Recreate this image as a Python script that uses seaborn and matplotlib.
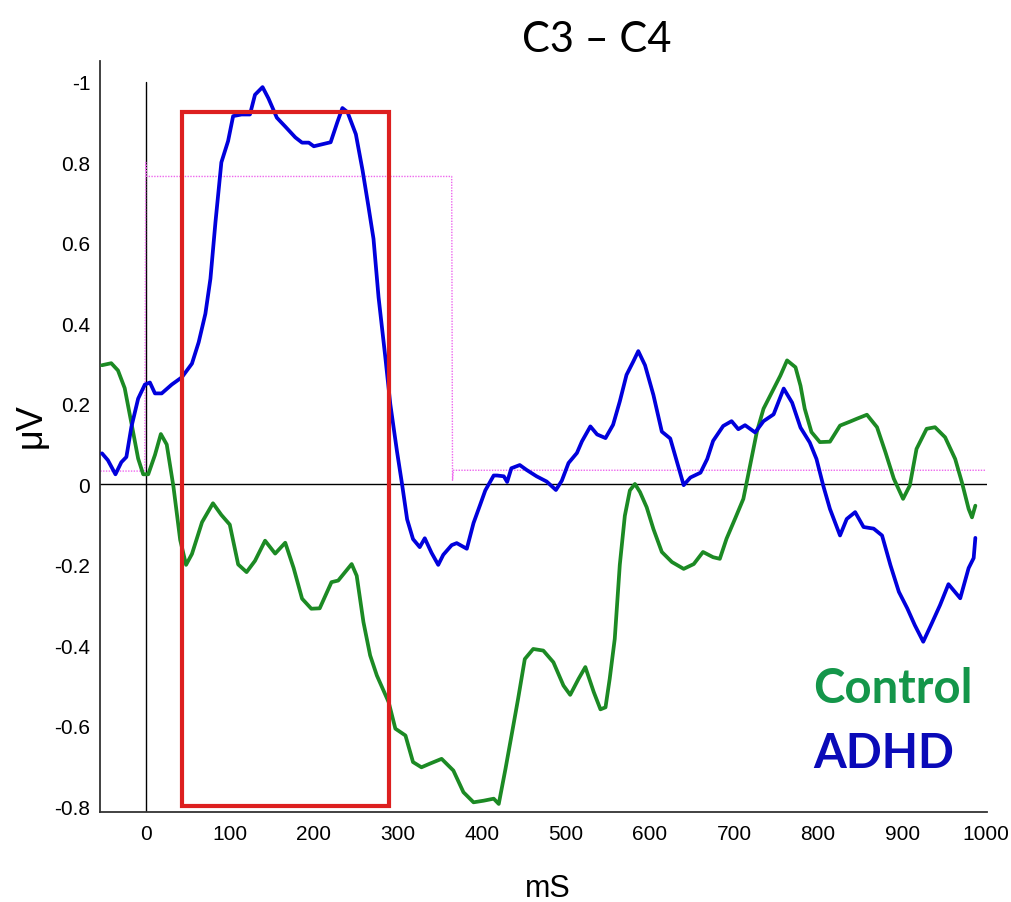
import numpy as np
import pandas as pd
import seaborn as sns
import matplotlib
matplotlib.use("Agg")
import matplotlib.pyplot as plt
from matplotlib.patches import Rectangle

# ADHD grand average (blue), time in ms, amplitude in uV
adhd_t = [-52, -45, -36, -29, -23, -17, -9, -1, 5, 11, 19, 31, 43, 55, 63, 71, 77, 83,
          90, 98, 104, 114, 124, 130, 139, 146, 156, 166, 178, 186, 194, 200, 210, 220,
          228, 234, 240, 250, 258, 265, 271, 277, 285, 291, 299, 305, 311, 318, 326,
          332, 340, 348, 354, 364, 370, 382, 390, 398, 404, 414, 418, 426, 430, 435,
          445, 453, 465, 477, 488, 495, 503, 513, 519, 529, 537, 547, 556, 564, 572,
          580, 586, 594, 604, 614, 624, 632, 640, 648, 660, 668, 675, 687, 697, 705,
          713, 725, 735, 747, 759, 769, 779, 790, 798, 806, 814, 826, 834, 844, 854,
          866, 876, 886, 896, 906, 915, 925, 935, 945, 955, 969, 979, 985, 987]
adhd_v = [0.077, 0.06, 0.025, 0.055, 0.068, 0.143, 0.213, 0.248, 0.253, 0.226, 0.226,
          0.248, 0.266, 0.30, 0.353, 0.424, 0.511, 0.652, 0.80, 0.853, 0.915, 0.919,
          0.919, 0.968, 0.987, 0.959, 0.911, 0.889, 0.862, 0.849, 0.849, 0.84, 0.845,
          0.85, 0.90, 0.935, 0.925, 0.87, 0.78, 0.69, 0.61, 0.465, 0.317, 0.199, 0.081,
          0.0, -0.087, -0.136, -0.156, -0.134, -0.17, -0.2, -0.175, -0.151, -0.146,
          -0.16, -0.096, -0.05, -0.015, 0.022, 0.022, 0.02, 0.006, 0.04, 0.048, 0.036,
          0.02, 0.007, -0.014, 0.009, 0.053, 0.078, 0.107, 0.144, 0.124, 0.115, 0.148,
          0.206, 0.272, 0.305, 0.331, 0.296, 0.222, 0.131, 0.114, 0.056, -0.002, 0.017,
          0.029, 0.063, 0.108, 0.145, 0.157, 0.137, 0.147, 0.129, 0.157, 0.174, 0.238,
          0.203, 0.141, 0.104, 0.063, -0.003, -0.061, -0.127, -0.086, -0.069, -0.106,
          -0.11, -0.127, -0.201, -0.267, -0.308, -0.35, -0.391, -0.346, -0.3, -0.248,
          -0.283, -0.208, -0.183, -0.133]

# Control grand average (green)
control_t = [-52, -41, -33, -25, -17, -9, -3, 3, 11, 18, 25, 33, 41, 48, 55, 67, 80, 90,
             100, 110, 120, 130, 142, 154, 166, 176, 186, 197, 207, 221, 229, 245, 251,
             259, 267, 275, 289, 297, 309, 318, 328, 338, 352, 366, 378, 390, 402, 414,
             420, 428, 437, 443, 451, 461, 473, 485, 497, 505, 515, 523, 533, 541, 547,
             552, 558, 564, 570, 576, 582, 588, 596, 604, 614, 626, 640, 652, 663, 675,
             683, 691, 701, 711, 719, 727, 735, 745, 755, 763, 773, 779, 784, 792, 802,
             814, 826, 838, 846, 858, 870, 880, 890, 901, 909, 917, 929, 939, 951, 963,
             971, 979, 983, 987]
control_v = [0.296, 0.301, 0.283, 0.239, 0.152, 0.064, 0.025, 0.025, 0.073, 0.125, 0.099,
             -0.006, -0.138, -0.2, -0.173, -0.094, -0.047, -0.076, -0.1, -0.199, -0.218,
             -0.19, -0.14, -0.172, -0.145, -0.208, -0.284, -0.309, -0.308, -0.243,
             -0.239, -0.198, -0.227, -0.342, -0.425, -0.475, -0.541, -0.607, -0.624,
             -0.69, -0.703, -0.694, -0.682, -0.711, -0.765, -0.79, -0.786, -0.781,
             -0.794, -0.707, -0.603, -0.533, -0.434, -0.409, -0.413, -0.442, -0.5,
             -0.523, -0.483, -0.454, -0.516, -0.559, -0.554, -0.483, -0.384, -0.2,
             -0.078, -0.015, 0.001, -0.019, -0.057, -0.111, -0.168, -0.193, -0.21,
             -0.198, -0.168, -0.181, -0.185, -0.135, -0.086, -0.036, 0.047, 0.13, 0.188,
             0.229, 0.27, 0.308, 0.291, 0.245, 0.188, 0.13, 0.105, 0.106, 0.146, 0.156,
             0.163, 0.173, 0.142, 0.08, 0.014, -0.036, -0.003, 0.088, 0.138, 0.142,
             0.117, 0.063, 0.005, -0.061, -0.082, -0.053]

# stimulus marker trace (magenta)
stim_t = [-54, -1, 0, 1, 364, 365, 366, 1000]
stim_v = [0.033, 0.033, 0.80, 0.765, 0.765, 0.01, 0.035, 0.035]

# analysis window box
roi_start, roi_end = 43, 290
roi_low, roi_high = -0.798, 0.925

yticks = [-0.8, -0.6, -0.4, -0.2, 0, 0.2, 0.4, 0.6, 0.8, 1.0]
ytick_labels = ["-0.8", "-0.6", "-0.4", "-0.2", "0", "0.2", "0.4", "0.6", "0.8", "-1"]
xticks = [0, 100, 200, 300, 400, 500, 600, 700, 800, 900, 1000]
xlim = (-54.4, 1000.9)
ylim = (-0.814, 1.052)

df = pd.concat([
    pd.DataFrame({"t": adhd_t, "v": adhd_v, "group": "ADHD"}),
    pd.DataFrame({"t": control_t, "v": control_v, "group": "Control"}),
])

sns.set_style("white")
plt.rcParams["font.family"] = ["Liberation Sans", "DejaVu Sans"]
plt.rcParams["text.color"] = "black"
plt.rcParams["xtick.color"] = "black"
plt.rcParams["ytick.color"] = "black"

fig = plt.figure(figsize=(10.11, 9.03), dpi=100)
ax = fig.add_axes([0.0989, 0.0997, 0.8774, 0.8317])

# reference lines
ax.axhline(0, color="black", lw=1.0, zorder=1)
ax.axvline(0, ymax=(1.0 - ylim[0]) / (ylim[1] - ylim[0]), color="black", lw=1.0, zorder=1)
ax.plot(stim_t, stim_v, color="#ee66ee", lw=1.0, ls=(0, (1, 1)), zorder=2)

sns.lineplot(data=df, x="t", y="v", hue="group", hue_order=["Control", "ADHD"],
             palette={"Control": "#1c8a24", "ADHD": "#0000dc"}, estimator=None,
             sort=False, lw=2.7, legend=False, ax=ax, zorder=3)

ax.add_patch(Rectangle((roi_start, roi_low), roi_end - roi_start, roi_high - roi_low,
                       fill=False, edgecolor="#dd1f1f", lw=3, zorder=4))

ax.set_xlim(*xlim)
ax.set_ylim(*ylim)
ax.set_xticks(xticks)
ax.set_xticklabels([str(x) for x in xticks])
ax.set_yticks(yticks)
ax.set_yticklabels(ytick_labels)
ax.tick_params(axis="y", direction="in", length=6, width=1, pad=7, labelsize=15)
ax.tick_params(axis="x", length=0, pad=9, labelsize=15)
ax.set_xlabel("")
ax.set_ylabel("")
for s in ["top", "right"]:
    ax.spines[s].set_visible(False)
for s in ["left", "bottom"]:
    ax.spines[s].set_color("#333333")
    ax.spines[s].set_linewidth(1.3)
ax.set_facecolor("white")

fig.text(597 / 1011, 1 - 52 / 903, "C3 \u2013 C4", family=["Lato", "DejaVu Sans"],
         fontsize=30, ha="center", va="baseline")
fig.text(31 / 1011, 1 - 426 / 903, "\u03bcV", fontsize=26, rotation=90,
         ha="center", va="center")
fig.text(548 / 1011, 1 - 889 / 903, "mS", fontsize=22, ha="center", va="center")
fig.text(813 / 1011, 1 - 703 / 903, "Control", family=["Lato", "DejaVu Sans"],
         fontweight="bold", fontsize=34, color="#14964a", ha="left", va="baseline")
fig.text(813 / 1011, 1 - 768 / 903, "ADHD", family=["Lato", "DejaVu Sans"],
         fontweight="bold", fontsize=34, color="#0a0ab8", ha="left", va="baseline")

fig.savefig("out.png", dpi=100, facecolor="white")
